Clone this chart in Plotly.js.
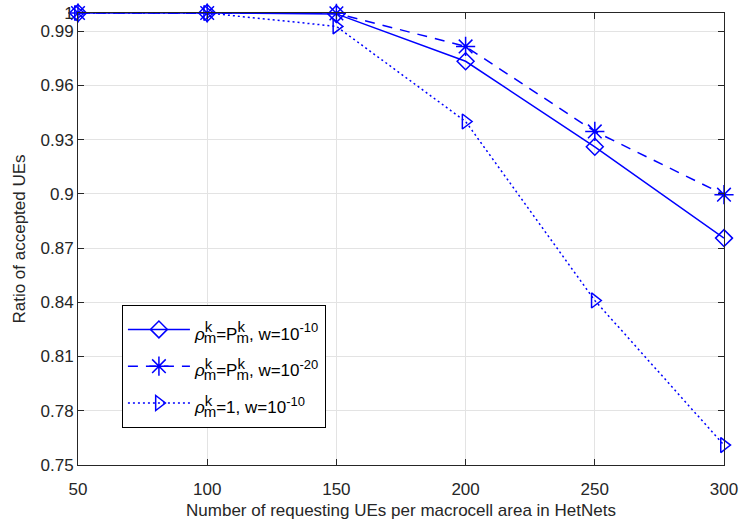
<!DOCTYPE html>
<html>
<head>
<meta charset="utf-8">
<script src="https://cdn.plot.ly/plotly-3.0.1.min.js"></script>
<style>
  html, body { margin: 0; padding: 0; background: #fff; }
  #chart { width: 739px; height: 527px; }
</style>
</head>
<body>
<div id="chart"></div>
<script>
// Number of requesting UEs per macrocell area
const ues = [50, 100, 150, 200, 250, 300];

// Ratio of accepted UEs for each power setting
const ratioPmk10 = [1.0, 1.0, 0.9995, 0.9733, 0.926, 0.8755];
const ratioPmk20 = [1.0, 1.0, 0.9998, 0.9815, 0.9345, 0.8995];
const ratioOne10 = [1.0, 1.0, 0.9926, 0.940, 0.841, 0.761];

const yTicks = [0.75, 0.78, 0.81, 0.84, 0.87, 0.9, 0.93, 0.96, 0.99, 1];
const yTickText = ['0.75', '0.78', '0.81', '0.84', '0.87', '0.9', '0.93', '0.96', '0.99', '1'];
const xTicks = [50, 100, 150, 200, 250, 300];

// stacked super/subscript for rho_m^k and P_m^k
const sk = '<sup><span style="font-size:15px;letter-spacing:-8.5px">k</span></sup>' +
           '<sub><span style="font-size:15px">m</span></sub>';
const ex = e => '<sup><span style="font-size:13px">' + e + '</span></sup>';
// legend rows use a large base size for row spacing; the visible text is 17px
const wrap = s => '<span style="font-size:17px">' + s + '</span>';
const names = [
  wrap('<i>\u03C1</i>' + sk + '=P' + sk + ', w=10' + ex('-10')),
  wrap('<i>\u03C1</i>' + sk + '=P' + sk + ', w=10' + ex('-20')),
  wrap('<i>\u03C1</i>' + sk + '=1, w=10' + ex('-10'))
];

const blue = '#0000FF';
const ink = '#262626';
const traces = [
  {
    x: ues, y: ratioPmk10, name: names[0], mode: 'lines+markers', cliponaxis: false,
    line: { color: blue, width: 1.5, dash: 'solid' },
    marker: { symbol: 'diamond-open', size: 13, color: blue, line: { width: 1.5, color: blue } }
  },
  {
    x: ues, y: ratioPmk20, name: names[1], mode: 'lines+markers', cliponaxis: false,
    line: { color: blue, width: 1.5, dash: '10px,8px' },
    marker: { symbol: 'asterisk-open', size: 16, color: blue, line: { width: 1.5, color: blue } }
  },
  {
    x: ues, y: ratioOne10, name: names[2], mode: 'lines+markers', cliponaxis: false,
    line: { color: blue, width: 1.5, dash: '2px,3px' },
    marker: { symbol: 'triangle-right-open', size: 13, color: blue, line: { width: 1.5, color: blue } }
  }
];

const family = 'Liberation Sans, Arial, Helvetica, sans-serif';

const layout = {
  width: 739, height: 527,
  margin: { l: 78, r: 14.5, t: 13, b: 62 },
  paper_bgcolor: '#fff', plot_bgcolor: '#fff',
  font: { family: family, color: ink, size: 16 },
  showlegend: true,
  legend: {
    x: 0.068, y: 0.354, xanchor: 'left', yanchor: 'top',
    bgcolor: '#fff', bordercolor: '#000', borderwidth: 1,
    font: { family: family, size: 26, color: '#000' },
    tracegroupgap: 0, itemwidth: 62
  },
  xaxis: {
    range: [50, 300], tickvals: xTicks, ticktext: xTicks.map(String),
    ticks: 'inside', ticklen: 6, tickcolor: ink, tickwidth: 1,
    showline: true, linecolor: ink, linewidth: 1, mirror: 'ticks',
    showgrid: true, gridcolor: '#e3e3e3', gridwidth: 1, zeroline: false,
    tickfont: { size: 17, color: ink }, ticklabelstandoff: 9,
    title: { text: 'Number of requesting UEs per macrocell area in HetNets', font: { size: 17, color: ink }, standoff: 5 }
  },
  yaxis: {
    range: [0.75, 1], tickvals: yTicks, ticktext: yTickText,
    ticks: 'inside', ticklen: 6, tickcolor: ink, tickwidth: 1,
    showline: true, linecolor: ink, linewidth: 1, mirror: 'ticks',
    showgrid: true, gridcolor: '#e3e3e3', gridwidth: 1, zeroline: false,
    tickfont: { size: 17, color: ink },
    title: { text: 'Ratio of accepted UEs', font: { size: 17, color: ink }, standoff: 10 }
  }
};

Plotly.newPlot('chart', traces, layout, { staticPlot: true, displayModeBar: false });
</script>
</body>
</html>
